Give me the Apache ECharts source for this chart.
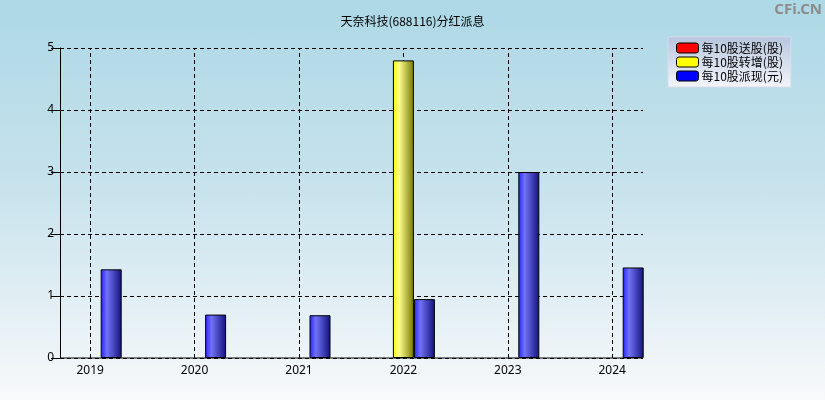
<!DOCTYPE html>
<html>
<head>
<meta charset="utf-8">
<script src="https://cdn.jsdelivr.net/npm/echarts@6/dist/echarts.min.js"></script>
<style>
  html, body { margin: 0; padding: 0; }
  #chart {
    width: 825px; height: 400px;
    background: linear-gradient(to bottom, #add8e6 0%, #c6e2ec 45%, #f8f9fb 100%);
  }
</style>
</head>
<body>
<div id="chart"></div>
<script>
// 数据
var years = ['2019', '2020', '2021', '2022', '2023', '2024'];
var songgu = [0, 0, 0, 0, 0, 0];            // 每10股送股(股)
var zhuanzeng = [0, 0, 0, 4.8, 0, 0];        // 每10股转增(股)
var paixian = [1.43, 0.70, 0.69, 0.95, 3.0, 1.46]; // 每10股派现(元)
var yTicks = [0, 1, 2, 3, 4, 5];

var chart = echarts.init(document.getElementById('chart'));

function barColor(c0, c1, c2) {
    return new echarts.graphic.LinearGradient(0, 0, 1, 0, [
        { offset: 0, color: c0 },
        { offset: 0.3, color: c1 },
        { offset: 1, color: c2 }
    ]);
}

// 0 值不画柱子
function noZero(arr) {
    return arr.map(function (v) { return v === 0 ? '-' : v; });
}

var dashed = { color: '#000', width: 1, type: [4, 3] };
var labelFont = { fontSize: 12, color: '#000', fontFamily: 'Noto Sans, sans-serif' };

var option = {
    animation: false,
    title: {
        text: '天奈科技(688116)分红派息',
        left: 'center',
        top: 10,
        textStyle: { fontSize: 12, fontWeight: 'normal', color: '#000', fontFamily: 'Noto Sans CJK SC' }
    },
    graphic: [{
        type: 'text',
        right: 3,
        top: 2,
        style: { text: 'CFi.CN', fontSize: 15, fontWeight: 'bold', fill: '#8c8c8c', fontFamily: 'Noto Sans' }
    }],
    legend: {
        orient: 'vertical',
        left: 668,
        top: 37,
        width: 130,
        padding: [5, 8, 5, 8],
        itemGap: 2,
        itemWidth: 22,
        itemHeight: 10,
        backgroundColor: new echarts.graphic.LinearGradient(0, 0, 0, 1, [
            { offset: 0, color: '#b6c6de' },
            { offset: 1, color: '#f4f5fa' }
        ]),
        borderColor: '#d8dce8',
        borderWidth: 1,
        textStyle: { fontSize: 12, color: '#000', fontFamily: 'Noto Sans CJK SC', padding: [0, 0, 0, -2] },
        data: [
            { name: '每10股送股(股)', itemStyle: { color: '#ff0000', borderColor: '#000', borderWidth: 1 } },
            { name: '每10股转增(股)', itemStyle: { color: '#ffff00', borderColor: '#000', borderWidth: 1 } },
            { name: '每10股派现(元)', itemStyle: { color: '#0000ff', borderColor: '#000', borderWidth: 1 } }
        ]
    },
    grid: [
        { left: 60, top: 48, width: 583, height: 310 },
        { left: 38, top: 48, width: 626.4, height: 310 }
    ],
    xAxis: [{
        gridIndex: 0,
        type: 'category',
        data: years,
        boundaryGap: false,
        axisLine: { show: false },
        axisTick: { show: false },
        axisLabel: { show: false },
        splitLine: { show: false }
    }, {
        gridIndex: 1,
        type: 'category',
        data: years,
        boundaryGap: true,
        axisLine: { show: false },
        axisTick: { show: false },
        axisLabel: Object.assign({ margin: 7 }, labelFont),
        splitLine: { show: false }
    }],
    yAxis: [{
        gridIndex: 0,
        type: 'value',
        min: yTicks[0],
        max: yTicks[yTicks.length - 1],
        interval: 1,
        axisLine: { show: true, lineStyle: { color: '#000', width: 1 } },
        axisTick: { show: true, length: 9, lineStyle: { color: '#000' } },
        axisLabel: Object.assign({ margin: 6 }, labelFont),
        splitLine: { show: true, lineStyle: dashed }
    }, {
        gridIndex: 1,
        type: 'value',
        min: 0,
        max: 5,
        show: false
    }],
    series: [{
        // 竖向网格线（年份中心）
        type: 'line',
        xAxisIndex: 1,
        yAxisIndex: 1,
        data: [],
        silent: true,
        clip: false,
        z: 0,
        markLine: {
            silent: true,
            symbol: 'none',
            z: 0,
            label: { show: false },
            lineStyle: dashed,
            data: years.map(function (y) { return { xAxis: y }; })
        }
    }, {
        // 底部坐标轴线（y=0 基线）
        type: 'line',
        xAxisIndex: 0,
        yAxisIndex: 0,
        data: years.map(function () { return 0; }),
        silent: true,
        clip: false,
        symbol: 'none',
        z: 5,
        lineStyle: { color: '#000', width: 1.2 }
    }, {
        name: '每10股送股(股)',
        type: 'bar',
        xAxisIndex: 1,
        yAxisIndex: 1,
        barWidth: 21,
        barGap: '0%',
        z: 3,
        itemStyle: { color: barColor('#ff2020', '#ff8080', '#8a1010'), borderColor: '#000', borderWidth: 1 },
        data: noZero(songgu)
    }, {
        name: '每10股转增(股)',
        type: 'bar',
        xAxisIndex: 1,
        yAxisIndex: 1,
        barWidth: 21,
        barGap: '0%',
        z: 3,
        itemStyle: { color: barColor('#f8f800', '#ffff90', '#767600'), borderColor: '#000', borderWidth: 1 },
        data: noZero(zhuanzeng)
    }, {
        name: '每10股派现(元)',
        type: 'bar',
        xAxisIndex: 1,
        yAxisIndex: 1,
        barWidth: 21,
        barGap: '0%',
        z: 3,
        itemStyle: { color: barColor('#2222ff', '#7272f8', '#12127a'), borderColor: '#000', borderWidth: 1 },
        data: noZero(paixian)
    }]
};

chart.setOption(option);
</script>
</body>
</html>
